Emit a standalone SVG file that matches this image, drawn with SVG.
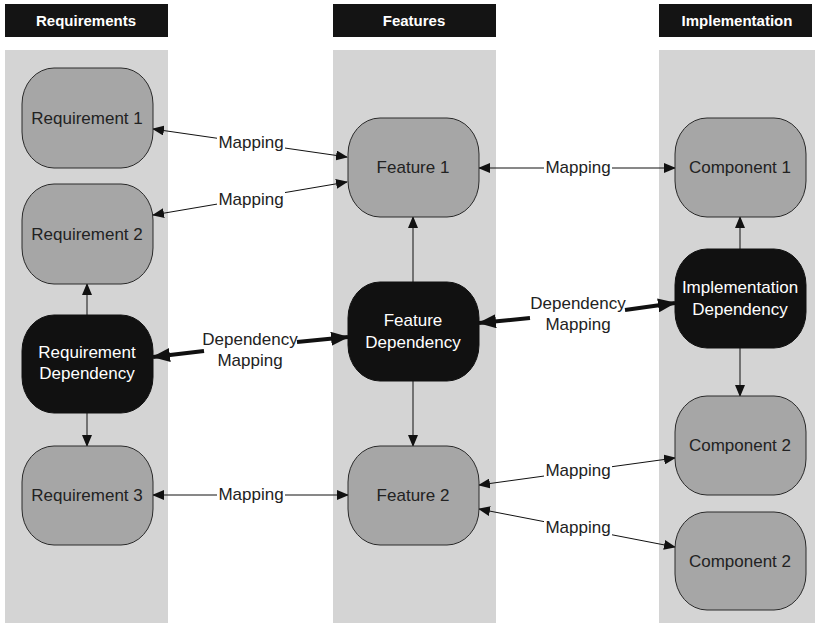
<svg xmlns="http://www.w3.org/2000/svg" width="815" height="623" viewBox="0 0 815 623">
<style>
.col{fill:#d4d4d4}
.hdr{fill:#141414}
.ht{fill:#fff;font-family:"Liberation Sans",Arial,sans-serif;font-weight:bold;font-size:15px;text-anchor:middle}
.gn{fill:#a6a6a6;stroke:#2a2a2a;stroke-width:1}
.bn{fill:#111;stroke:#111;stroke-width:1}
.t{font-family:"Liberation Sans",Arial,sans-serif;font-size:17px;text-anchor:middle;fill:#222}
.tw{font-family:"Liberation Sans",Arial,sans-serif;font-size:17px;text-anchor:middle;fill:#fff}
.c{stroke:#111;stroke-width:1;fill:none}
.ck{stroke:#111;stroke-width:4;fill:none}
.lb{fill:#fff}
</style>
<defs>
<marker id="a" markerUnits="userSpaceOnUse" markerWidth="12" markerHeight="10" refX="11" refY="5" orient="auto-start-reverse" viewBox="0 0 12 10"><path d="M0,0 L12,5 L0,10 Z" fill="#111"/></marker>
<marker id="ak" markerUnits="userSpaceOnUse" markerWidth="18" markerHeight="14" refX="17" refY="7" orient="auto-start-reverse" viewBox="0 0 18 14"><path d="M0,0 L18,7 L0,14 Z" fill="#111"/></marker>
</defs>
<rect class="col" x="5" y="50" width="163" height="573"/>
<rect class="col" x="333" y="50" width="163" height="573"/>
<rect class="col" x="659" y="50" width="156" height="573"/>
<g id="hdr-req"><rect class="hdr" x="5" y="4" width="163" height="33"/><text class="ht" x="86" y="26">Requirements</text></g>
<g id="hdr-feat"><rect class="hdr" x="333" y="4" width="163" height="33"/><text class="ht" x="414" y="26">Features</text></g>
<g id="hdr-impl"><rect class="hdr" x="659" y="4" width="153" height="33"/><text class="ht" x="737" y="26">Implementation</text></g>
<g id="connectors">
<line class="c" x1="153" y1="129" x2="347" y2="157" marker-start="url(#a)" marker-end="url(#a)"/>
<line class="c" x1="153" y1="215" x2="347" y2="182" marker-start="url(#a)" marker-end="url(#a)"/>
<line class="c" x1="479" y1="168" x2="675" y2="168" marker-start="url(#a)" marker-end="url(#a)"/>
<line class="c" x1="153" y1="495" x2="348" y2="495" marker-start="url(#a)" marker-end="url(#a)"/>
<line class="c" x1="479" y1="485" x2="675" y2="458" marker-start="url(#a)" marker-end="url(#a)"/>
<line class="c" x1="479" y1="509" x2="675" y2="547" marker-start="url(#a)" marker-end="url(#a)"/>
<line class="c" x1="87" y1="315" x2="87" y2="284" marker-end="url(#a)"/>
<line class="c" x1="87" y1="413" x2="87" y2="446" marker-end="url(#a)"/>
<line class="c" x1="413" y1="282" x2="413" y2="217" marker-end="url(#a)"/>
<line class="c" x1="413" y1="381" x2="413" y2="446" marker-end="url(#a)"/>
<line class="c" x1="740" y1="249" x2="740" y2="217" marker-end="url(#a)"/>
<line class="c" x1="740" y1="348" x2="740" y2="396" marker-end="url(#a)"/>
<line class="ck" x1="204" y1="351" x2="153" y2="357" marker-end="url(#ak)"/>
<line class="ck" x1="297" y1="342" x2="348" y2="337" marker-end="url(#ak)"/>
<line class="ck" x1="530" y1="318" x2="479" y2="323" marker-end="url(#ak)"/>
<line class="ck" x1="625" y1="310" x2="675" y2="303" marker-end="url(#ak)"/>
<rect class="lb" x="217" y="133" width="68" height="19"/>
<text class="t" x="251" y="148">Mapping</text>
<rect class="lb" x="217" y="190" width="68" height="19"/>
<text class="t" x="251" y="205">Mapping</text>
<rect class="lb" x="544" y="158" width="68" height="19"/>
<text class="t" x="578" y="173">Mapping</text>
<rect class="lb" x="217" y="485" width="68" height="19"/>
<text class="t" x="251" y="500">Mapping</text>
<rect class="lb" x="544" y="461" width="68" height="19"/>
<text class="t" x="578" y="476">Mapping</text>
<rect class="lb" x="544" y="518" width="68" height="19"/>
<text class="t" x="578" y="533">Mapping</text>
<text class="t" x="250" y="345">Dependency</text>
<text class="t" x="250" y="366">Mapping</text>
<text class="t" x="578" y="309">Dependency</text>
<text class="t" x="578" y="330">Mapping</text>
</g>
<g id="req1"><rect class="gn" x="22" y="68" width="131" height="100" rx="32" ry="36"/><text class="t" x="87" y="124">Requirement 1</text></g>
<g id="req2"><rect class="gn" x="22" y="184" width="131" height="100" rx="32" ry="36"/><text class="t" x="87" y="240">Requirement 2</text></g>
<g id="reqdep"><rect class="bn" x="22" y="315" width="131" height="98" rx="32" ry="36"/><text class="tw" x="87" y="358">Requirement</text><text class="tw" x="87" y="379">Dependency</text></g>
<g id="req3"><rect class="gn" x="22" y="446" width="131" height="99" rx="32" ry="36"/><text class="t" x="87" y="501">Requirement 3</text></g>
<g id="feat1"><rect class="gn" x="348" y="118" width="131" height="99" rx="32" ry="36"/><text class="t" x="413" y="173">Feature 1</text></g>
<g id="featdep"><rect class="bn" x="348" y="282" width="131" height="99" rx="32" ry="36"/><text class="tw" x="413" y="326">Feature</text><text class="tw" x="413" y="348">Dependency</text></g>
<g id="feat2"><rect class="gn" x="348" y="446" width="131" height="99" rx="32" ry="36"/><text class="t" x="413" y="501">Feature 2</text></g>
<g id="comp1"><rect class="gn" x="675" y="118" width="131" height="99" rx="32" ry="36"/><text class="t" x="740" y="173">Component 1</text></g>
<g id="impldep"><rect class="bn" x="675" y="249" width="131" height="99" rx="32" ry="36"/><text class="tw" x="740" y="293">Implementation</text><text class="tw" x="740" y="315">Dependency</text></g>
<g id="comp2a"><rect class="gn" x="675" y="396" width="131" height="99" rx="32" ry="36"/><text class="t" x="740" y="451">Component 2</text></g>
<g id="comp2b"><rect class="gn" x="675" y="512" width="131" height="98" rx="32" ry="36"/><text class="t" x="740" y="567">Component 2</text></g>
</svg>
